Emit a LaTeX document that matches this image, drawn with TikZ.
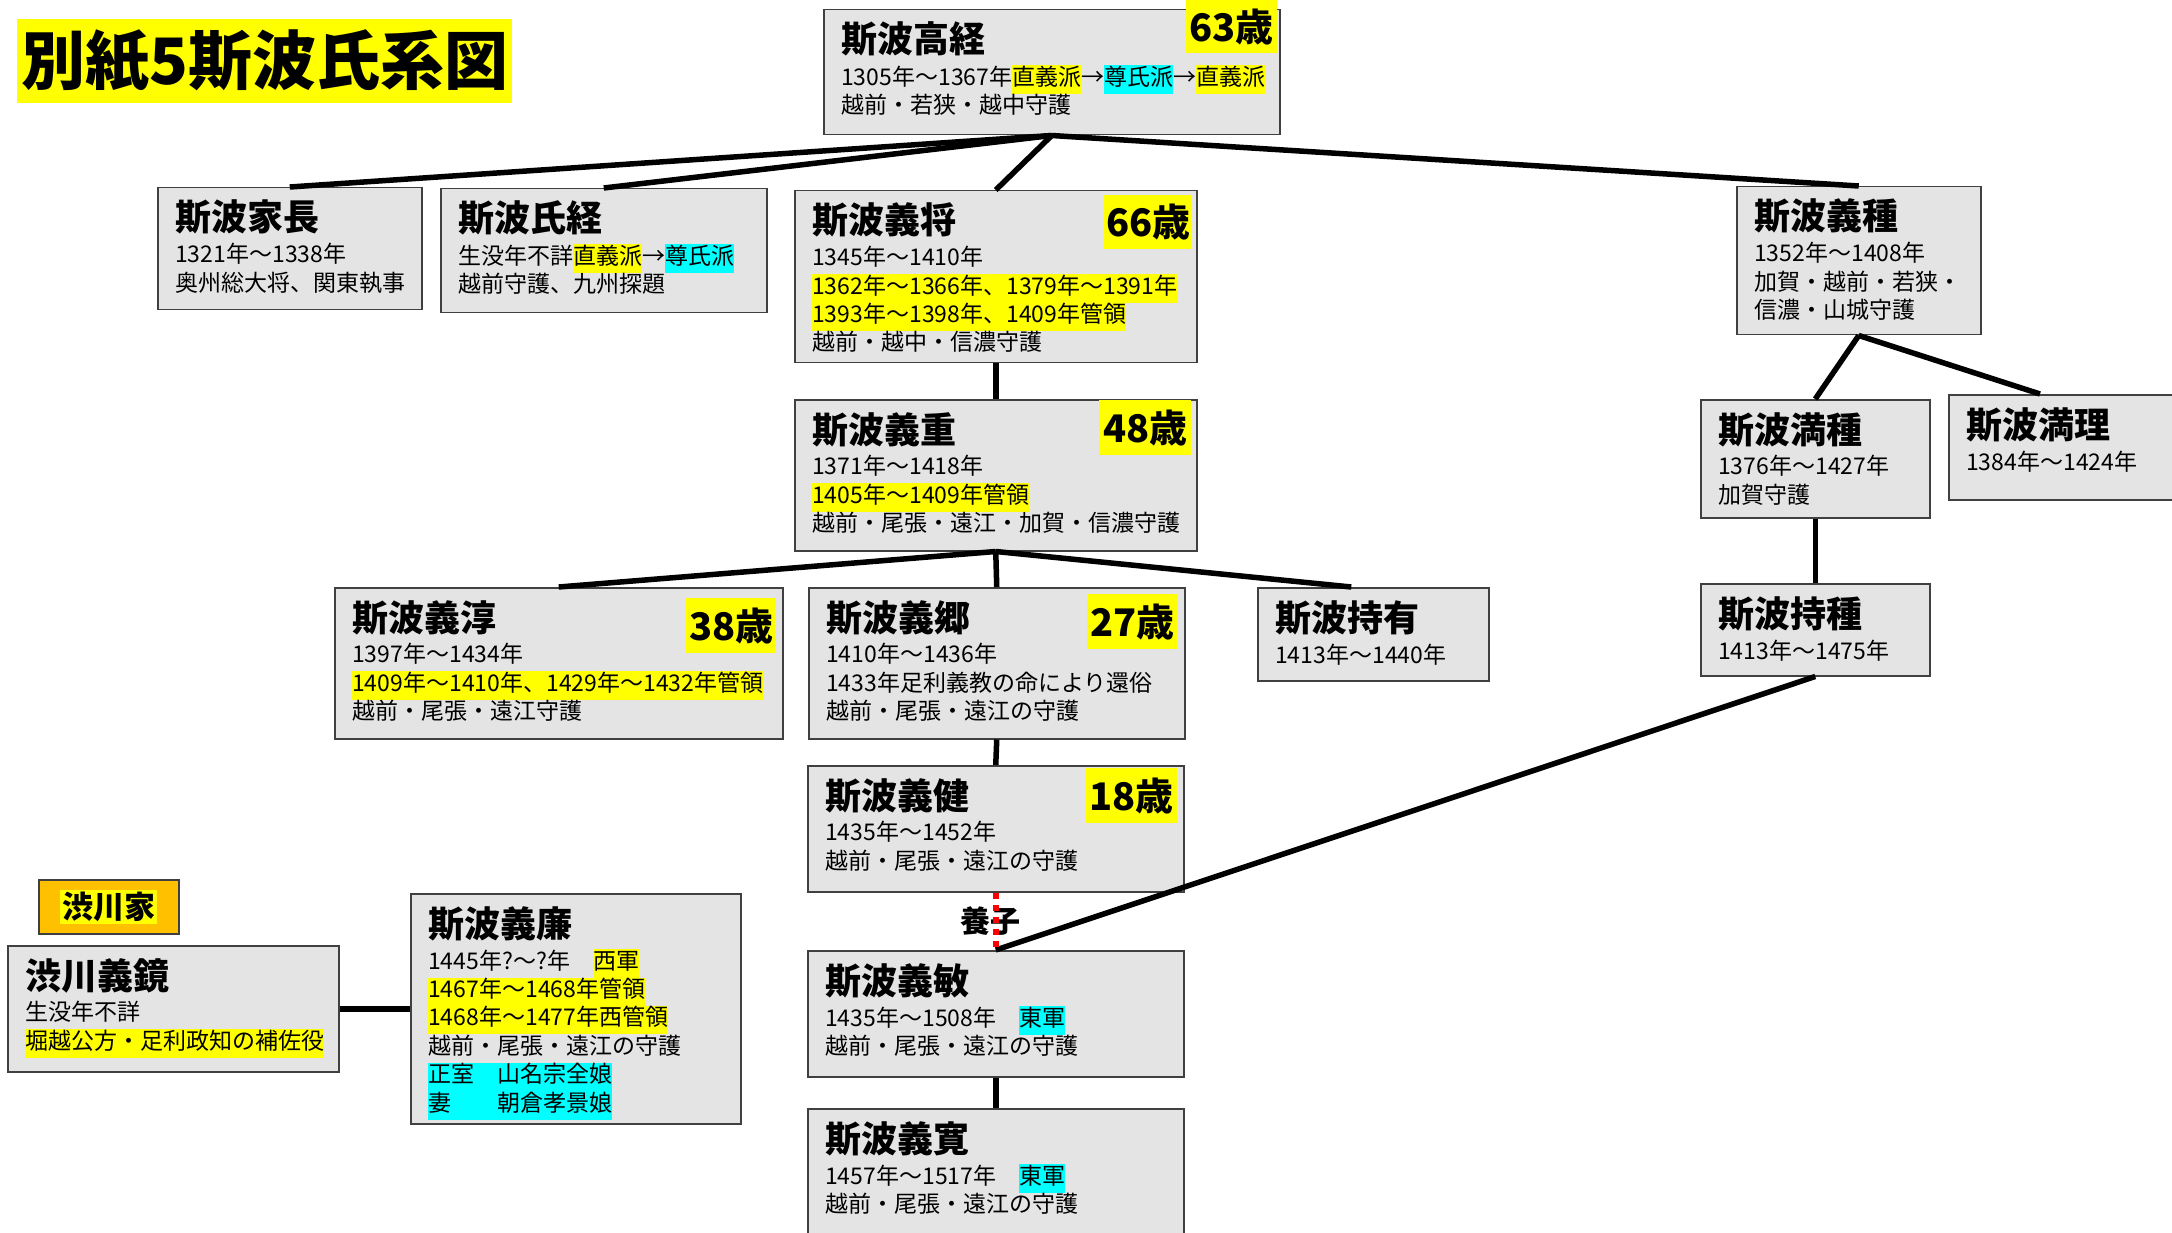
\documentclass[tikz,border=0pt]{standalone}
\usepackage{fontspec}
\setmainfont{Noto Sans CJK JP}
\usepackage{tikz}

\definecolor{boxgray}{RGB}{228,228,228}
\definecolor{boxline}{RGB}{64,64,64}
\definecolor{hlyellow}{RGB}{255,255,0}
\definecolor{hlcyan}{RGB}{0,255,255}
\definecolor{kaorange}{RGB}{255,192,0}

\newcommand{\namef}{\fontsize{36}{40}\selectfont\bfseries}
\newcommand{\detf}{\fontsize{23}{28.4}\selectfont}
\newcommand{\hly}[1]{{\setlength{\fboxsep}{0pt}\colorbox{hlyellow}{\strut #1}}}
\newcommand{\hlc}[1]{{\setlength{\fboxsep}{0pt}\colorbox{hlcyan}{\strut #1}}}

\begin{document}
\begin{tikzpicture}[x=1pt,y=-1pt]
    \tikzstyle{person} = [rectangle, draw=boxline, line width=1.5pt, fill=boxgray, inner sep=0pt, anchor=north west]
    \tikzstyle{pname} = [anchor=base west, inner sep=0pt, font=\namef]
    \tikzstyle{pinfo} = [anchor=north west, inner sep=0pt, align=left, font=\detf, execute at begin node=\strut]
    \tikzstyle{age} = [anchor=north west, fill=hlyellow, inner sep=0pt, minimum width=90pt, minimum height=55pt, font=\fontsize{38}{40}\selectfont\bfseries]
    \tikzstyle{kin} = [line width=5.5pt]
    \tikzstyle{adopted} = [red, line width=6pt, dash pattern=on 6pt off 6pt]

    % Page
    \fill[white] (0,0) rectangle (2172,1233);
    \useasboundingbox (0,0) rectangle (2172,1233);

    % Title
    \node[anchor=north west, fill=hlyellow, inner sep=0pt, minimum width=495pt, minimum height=84pt,
          font=\fontsize{64}{70}\selectfont\bfseries] (title) at (17,19) {別紙5斯波氏系図};

    % Takatsune
    \node[person, minimum width=456pt, minimum height=125pt] (takatsune) at (823,9) {};
    \node[pname] (takatsune-n) at (841,53) {斯波高経};
    \node[pinfo] (takatsune-i) at (841,65) {1305年～1367年\hly{直義派}→\hlc{尊氏派}→\hly{直義派}\\越前・若狭・越中守護};
    \node[age, minimum width=91pt, minimum height=53pt] (takatsune-a) at (1186,0) {63歳};

    % Children of Takatsune
    \node[person, minimum width=264pt, minimum height=122pt] (ienaga) at (157,187) {};
    \node[pname] (ienaga-n) at (175,231) {斯波家長};
    \node[pinfo] (ienaga-i) at (175,243) {1321年～1338年\\奥州総大将、関東執事};

    \node[person, minimum width=326pt, minimum height=124pt] (ujitsune) at (440,188) {};
    \node[pname] (ujitsune-n) at (458,232) {斯波氏経};
    \node[pinfo] (ujitsune-i) at (458,244) {生没年不詳\hly{直義派}→\hlc{尊氏派}\\越前守護、九州探題};

    \node[person, minimum width=402pt, minimum height=172pt] (yoshimasa) at (794,190) {};
    \node[pname] (yoshimasa-n) at (812,234) {斯波義将};
    \node[pinfo] (yoshimasa-i) at (812,246) {1345年～1410年\\\hly{1362年～1366年、1379年～1391年}\\\hly{1393年～1398年、1409年管領}\\越前・越中・信濃守護};
    \node[age, minimum width=88pt, minimum height=54pt] (yoshimasa-a) at (1104,195) {66歳};

    \node[person, minimum width=244pt, minimum height=148pt] (yoshitane) at (1736,186) {};
    \node[pname] (yoshitane-n) at (1754,230) {斯波義種};
    \node[pinfo] (yoshitane-i) at (1754,242) {1352年～1408年\\加賀・越前・若狭・\\信濃・山城守護};

    % Next generation
    \node[person, minimum width=402pt, minimum height=151pt] (yoshishige) at (794,399) {};
    \node[pname] (yoshishige-n) at (812,443) {斯波義重};
    \node[pinfo] (yoshishige-i) at (812,455) {1371年～1418年\\\hly{1405年～1409年管領}\\越前・尾張・遠江・加賀・信濃守護};
    \node[age, minimum width=92pt] (yoshishige-a) at (1099,400) {48歳};

    \node[person, minimum width=229pt, minimum height=118pt] (mitsutane) at (1700,399) {};
    \node[pname] (mitsutane-n) at (1718,443) {斯波満種};
    \node[pinfo] (mitsutane-i) at (1718,455) {1376年～1427年\\加賀守護};

    \node[person, minimum width=230pt, minimum height=105pt] (mitsuri) at (1948,394) {};
    \node[pname] (mitsuri-n) at (1966,438) {斯波満理};
    \node[pinfo] (mitsuri-i) at (1966,450) {1384年～1424年};

    \node[person, minimum width=448pt, minimum height=151pt] (yoshiatsu) at (334,587) {};
    \node[pname] (yoshiatsu-n) at (352,631) {斯波義淳};
    \node[pinfo] (yoshiatsu-i) at (352,643) {1397年～1434年\\\hly{1409年～1410年、1429年～1432年管領}\\越前・尾張・遠江守護};
    \node[age] (yoshiatsu-a) at (686,598) {38歳};

    \node[person, minimum width=376pt, minimum height=151pt] (yoshisato) at (808,587) {};
    \node[pname] (yoshisato-n) at (826,631) {斯波義郷};
    \node[pinfo] (yoshisato-i) at (826,643) {1410年～1436年\\1433年足利義教の命により還俗\\越前・尾張・遠江の守護};
    \node[age] (yoshisato-a) at (1087,594) {27歳};

    \node[person, minimum width=231pt, minimum height=93pt] (mochiari) at (1257,587) {};
    \node[pname] (mochiari-n) at (1275,631) {斯波持有};
    \node[pinfo] (mochiari-i) at (1275,643) {1413年～1440年};

    \node[person, minimum width=229pt, minimum height=92pt] (mochitane) at (1700,583) {};
    \node[pname] (mochitane-n) at (1718,627) {斯波持種};
    \node[pinfo] (mochitane-i) at (1718,639) {1413年～1475年};

    \node[person, minimum width=376pt, minimum height=126pt] (yoshitake) at (807,765) {};
    \node[pname] (yoshitake-n) at (825,809) {斯波義健};
    \node[pinfo] (yoshitake-i) at (825,821) {1435年～1452年\\越前・尾張・遠江の守護};
    \node[age, minimum width=91pt] (yoshitake-a) at (1086,768) {18歳};

    \node[person, minimum width=376pt, minimum height=126pt] (yoshitoshi) at (807,950) {};
    \node[pname] (yoshitoshi-n) at (825,994) {斯波義敏};
    \node[pinfo] (yoshitoshi-i) at (825,1006) {1435年～1508年　\hlc{東軍}\\越前・尾張・遠江の守護};

    \node[person, minimum width=376pt, minimum height=140pt] (yoshihiro) at (807,1108) {};
    \node[pname] (yoshihiro-n) at (825,1152) {斯波義寛};
    \node[pinfo] (yoshihiro-i) at (825,1164) {1457年～1517年　\hlc{東軍}\\越前・尾張・遠江の守護};

    % Shibukawa family
    \node[anchor=north west, draw=boxline, line width=1.5pt, fill=kaorange, inner sep=0pt,
          minimum width=140pt, minimum height=54pt, font=\fontsize{31}{34}\selectfont\bfseries] (shibukawa) at (38,879)
          {{\setlength{\fboxsep}{2pt}\colorbox{hlyellow}{渋川家}}};

    \node[person, minimum width=331pt, minimum height=126pt] (yoshikane) at (7,945) {};
    \node[pname] (yoshikane-n) at (25,989) {渋川義鏡};
    \node[pinfo] (yoshikane-i) at (25,1001) {生没年不詳\\\hly{堀越公方・足利政知の補佐役}};

    \node[person, minimum width=330pt, minimum height=230pt] (yoshikado) at (410,893) {};
    \node[pname] (yoshikado-n) at (428,937) {斯波義廉};
    \node[pinfo] (yoshikado-i) at (428,949) {1445年?～?年　\hly{西軍}\\\hly{1467年～1468年管領}\\\hly{1468年～1477年西管領}\\越前・尾張・遠江の守護\\\hlc{正室　山名宗全娘}\\\hlc{妻　　朝倉孝景娘}};

    % Lines of descent
    \draw[kin] (takatsune.south) -- (ienaga.north);
    \draw[kin] (takatsune.south) -- (ujitsune.north);
    \draw[kin] (takatsune.south) -- (yoshimasa.north);
    \draw[kin] (takatsune.south) -- (yoshitane.north);

    \draw[kin] (yoshimasa.south) -- (yoshishige.north);
    \draw[kin] (yoshitane.south) -- (mitsutane.north);
    \draw[kin] (yoshitane.south) -- ([xshift=92pt]mitsuri.north west);

    \draw[kin] (yoshishige.south) -- (yoshiatsu.north);
    \draw[kin] (yoshishige.south) -- (yoshisato.north);
    \draw[kin] (yoshishige.south) -- ([xshift=-22pt]mochiari.north);
    \draw[kin] (mitsutane.south) -- (mochitane.north);

    \draw[kin] (yoshisato.south) -- (yoshitake.north);
    \draw[kin] (mochitane.south) -- (yoshitoshi.north);
    \draw[kin] (yoshitoshi.south) -- (yoshihiro.north);
    \draw[kin] (yoshikane.east) -- (yoshikado.west);

    % Adoption
    \node[font=\fontsize{30}{32}\selectfont\bfseries, inner sep=0pt] (adoption) at (990,921) {養子};
    \draw[adopted] (yoshitake.south) -- (yoshitoshi.north);

\end{tikzpicture}
\end{document}
